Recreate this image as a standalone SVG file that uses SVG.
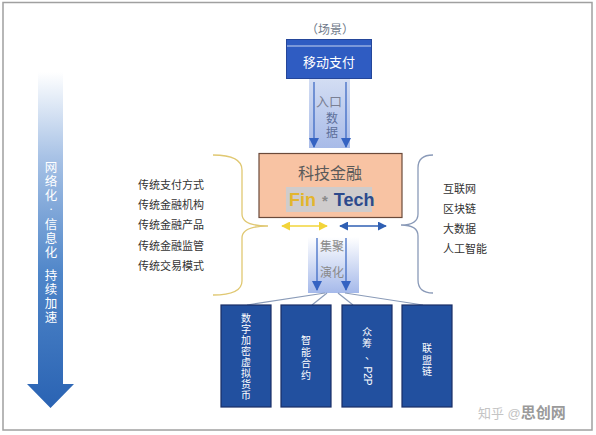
<svg xmlns="http://www.w3.org/2000/svg" width="596" height="435" viewBox="0 0 596 435">
<defs>
<linearGradient id="bigArrow" x1="0" y1="72" x2="0" y2="408" gradientUnits="userSpaceOnUse">
<stop offset="0" stop-color="#ffffff"/>
<stop offset="0.25" stop-color="#a9c3e6"/>
<stop offset="0.6" stop-color="#4f86c9"/>
<stop offset="1" stop-color="#2a63b3"/>
</linearGradient>
<linearGradient id="bandTop" x1="0" y1="0" x2="0" y2="1">
<stop offset="0" stop-color="#d3ddf3"/>
<stop offset="1" stop-color="#a8bbe8"/>
</linearGradient>
<linearGradient id="bandBot" x1="0" y1="0" x2="0" y2="1">
<stop offset="0" stop-color="#ffffff"/>
<stop offset="1" stop-color="#a5b9ea"/>
</linearGradient>
<marker id="ah" viewBox="0 0 10 10" refX="9" refY="5" markerWidth="10" markerHeight="10" markerUnits="userSpaceOnUse" orient="auto">
<path d="M0,0 L10,5 L0,10 z" fill="#3563c2"/>
</marker>
<marker id="yh" viewBox="0 0 10 10" refX="9" refY="5" markerWidth="9" markerHeight="9" markerUnits="userSpaceOnUse" orient="auto-start-reverse">
<path d="M0,0 L10,5 L0,10 z" fill="#f2d43a"/>
</marker>
<marker id="bh" viewBox="0 0 10 10" refX="9" refY="5" markerWidth="9" markerHeight="9" markerUnits="userSpaceOnUse" orient="auto-start-reverse">
<path d="M0,0 L10,5 L0,10 z" fill="#2f5fb3"/>
</marker>
</defs>
<style>
.serif{font-family:"Liberation Serif","Noto Sans CJK SC",serif;}
.sans{font-family:"Liberation Sans","Noto Sans CJK SC",sans-serif;}
.lt{font-size:11px;fill:#333;}
.vbox{fill:#22509f;stroke:#1a2e66;stroke-width:1.2;}
.vt{font-size:10px;fill:#ffffff;text-anchor:middle;}
.arr{stroke:#3563c2;stroke-width:1.2;fill:none;}
.conn{stroke:#8a9bb8;stroke-width:1.2;fill:none;}
</style>
<rect x="3" y="2.5" width="589" height="427.5" fill="#ffffff" stroke="#a0a0a0" stroke-width="1.5"/>

<g id="trend">
<path d="M38,72 H63 V384 H74 L50.5,408 L27,384 H38 Z" fill="url(#bigArrow)"/>
<text class="serif" font-size="12.5" fill="#ffffff" text-anchor="middle">
<tspan x="51" y="172">网</tspan><tspan x="51" y="186">络</tspan><tspan x="51" y="200">化</tspan><tspan x="51" y="213">·</tspan><tspan x="51" y="229">信</tspan><tspan x="51" y="243">息</tspan><tspan x="51" y="257">化</tspan><tspan x="51" y="280">持</tspan><tspan x="51" y="294">续</tspan><tspan x="51" y="308">加</tspan><tspan x="51" y="322">速</tspan>
</text>
</g>

<g id="scene">
<text class="sans" x="330" y="34" font-size="12" fill="#6f7a8a" text-anchor="middle">（场景）</text>
<rect x="286.5" y="39.5" width="85" height="39" fill="#2f5cc2" stroke="#24469a" stroke-width="1"/>
<line x1="287" y1="46" x2="371" y2="46" stroke="#c8d4f0" stroke-width="1"/>
<text class="sans" x="329" y="67" font-size="13" fill="#ffffff" text-anchor="middle">移动支付</text>
</g>

<g id="entry">
<rect x="309" y="79" width="41" height="69" fill="url(#bandTop)"/>
<line class="arr" x1="314" y1="82" x2="314" y2="147" marker-end="url(#ah)"/>
<line class="arr" x1="346" y1="82" x2="346" y2="147" marker-end="url(#ah)"/>
<text class="sans" x="329" y="106" font-size="13" fill="#7a8094" text-anchor="middle">入口</text>
<text class="sans" x="332" y="123" font-size="12" fill="#5d6f9a" text-anchor="middle">数</text>
<text class="sans" x="332" y="137" font-size="12" fill="#5d6f9a" text-anchor="middle">据</text>
</g>

<g id="fintech">
<rect x="259" y="153.5" width="143" height="64" fill="#f8c3a3" stroke="#6b4a3a" stroke-width="1.2"/>
<text class="sans" x="330" y="179" font-size="16" fill="#5a5a5a" text-anchor="middle">科技金融</text>
<rect x="286" y="187" width="86" height="25" fill="#cfcccc"/>
<text class="sans" x="289" y="206" font-size="18" font-weight="bold"><tspan fill="#e3b52d">Fin</tspan><tspan fill="#8a8a8a" dx="6" font-size="15">*</tspan><tspan fill="#2c4a8c" dx="6">Tech</tspan></text>
</g>

<g id="traditional">
<path d="M213,155 Q242,155 242,170 V214 Q242,226 268,226 Q242,226 242,238 V281 Q242,295 213,295" fill="none" stroke="#e0c872" stroke-width="1.3"/>
<text class="serif lt" x="138" y="189">传统支付方式</text>
<text class="serif lt" x="138" y="209">传统金融机构</text>
<text class="serif lt" x="138" y="229">传统金融产品</text>
<text class="serif lt" x="138" y="250">传统金融监管</text>
<text class="serif lt" x="138" y="270">传统交易模式</text>
</g>

<g id="tech">
<path d="M433,155 Q418,155 418,168 V214 Q418,225 401,225 Q418,225 418,236 V280 Q418,293 433,293" fill="none" stroke="#8a9ab8" stroke-width="1.3"/>
<text class="serif lt" x="443" y="193">互联网</text>
<text class="serif lt" x="443" y="213">区块链</text>
<text class="serif lt" x="443" y="233">大数据</text>
<text class="serif lt" x="443" y="253">人工智能</text>
</g>

<g id="connectors">
<line x1="282" y1="226" x2="327" y2="226" stroke="#f2d43a" stroke-width="1.4" marker-start="url(#yh)" marker-end="url(#yh)"/>
<line x1="340" y1="226" x2="386" y2="226" stroke="#2f5fb3" stroke-width="1.4" marker-start="url(#bh)" marker-end="url(#bh)"/>
<rect x="308" y="237" width="51" height="56" fill="url(#bandBot)"/>
<line class="arr" x1="317" y1="238" x2="317" y2="290" marker-end="url(#ah)"/>
<line class="arr" x1="346" y1="238" x2="346" y2="290" marker-end="url(#ah)"/>
<line class="conn" x1="325" y1="293" x2="247" y2="305"/>
<line class="conn" x1="327" y1="293" x2="312" y2="305"/>
<line class="conn" x1="338" y1="293" x2="353" y2="305"/>
<line class="conn" x1="345" y1="293" x2="423" y2="305"/>
</g>
<text class="sans" x="332" y="251" font-size="12" fill="#8a8a8a" text-anchor="middle">集聚</text>
<text class="sans" x="332" y="277" font-size="12" fill="#8a8a8a" text-anchor="middle">演化</text>

<g id="crypto">
<rect class="vbox" x="221" y="305" width="50" height="102"/>
<text class="sans vt"><tspan x="246" y="322">数</tspan><tspan x="246" y="333">字</tspan><tspan x="246" y="344">加</tspan><tspan x="246" y="355">密</tspan><tspan x="246" y="366">虚</tspan><tspan x="246" y="377">拟</tspan><tspan x="246" y="388">货</tspan><tspan x="246" y="399">币</tspan></text>
</g>
<g id="smart">
<rect class="vbox" x="281" y="305" width="50" height="102"/>
<text class="sans vt"><tspan x="306" y="344">智</tspan><tspan x="306" y="355.5">能</tspan><tspan x="306" y="367">合</tspan><tspan x="306" y="378.5">约</tspan></text>
</g>
<g id="crowd">
<rect class="vbox" x="342" y="305" width="50" height="102"/>
<text class="sans vt"><tspan x="367" y="336">众</tspan><tspan x="367" y="347">筹</tspan><tspan x="370" y="358.5">、</tspan></text>
<text class="sans" font-size="10" fill="#ffffff" text-anchor="middle" transform="translate(363.5,376) rotate(90)">P2P</text>
</g>
<g id="alliance">
<rect class="vbox" x="402" y="305" width="50" height="102"/>
<text class="sans vt"><tspan x="427" y="352">联</tspan><tspan x="427" y="363.5">盟</tspan><tspan x="427" y="375">链</tspan></text>
</g>

<text class="sans" x="478" y="418" font-size="13" fill="#c4c4c4">知乎 @<tspan font-weight="bold" fill="#9a9a9a" font-size="15">思创网</tspan></text>
</svg>
